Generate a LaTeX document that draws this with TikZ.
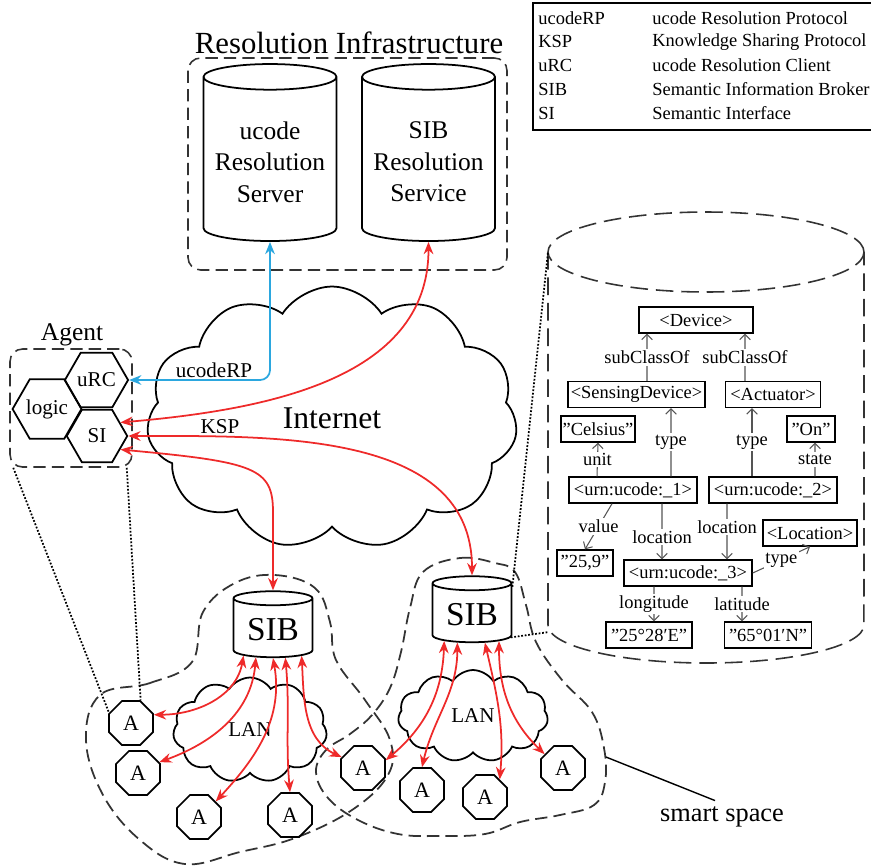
\documentclass[tikz,border=0pt]{standalone}
\usepackage{fontspec}
\setmainfont{Liberation Serif}
\usetikzlibrary{shapes.geometric,shapes.symbols,arrows.meta}
\definecolor{kspred}{HTML}{EE2A2A}
\definecolor{rpblue}{HTML}{2BA7DF}
\definecolor{dashgray}{HTML}{333333}
\definecolor{relgray}{HTML}{555555}

\begin{document}
\begin{tikzpicture}[x=0.02cm,y=-0.02cm,
    legtext/.style={anchor=west,inner sep=0pt,font=\fontsize{10.5}{12}\selectfont},
    grpbox/.style={draw=dashgray,line width=0.9pt,dash pattern=on 7pt off 3.5pt,rounded corners=0.25cm},
    spacedash/.style={draw=dashgray,line width=1pt,dash pattern=on 7pt off 3.5pt},
    bigdash/.style={draw=dashgray,line width=0.9pt,dash pattern=on 10pt off 4.5pt},
    bigcyl/.style={cylinder,draw,line width=1pt,shape border rotate=90,aspect=0.21,
      minimum width=2.66cm,minimum height=3.54cm,align=center,font=\fontsize{14.5}{18}\selectfont},
    sibcyl/.style={cylinder,draw,line width=1pt,shape border rotate=90,aspect=0.22,
      minimum width=1.58cm,minimum height=1.32cm,font=\fontsize{19}{22}\selectfont},
    hexa/.style={regular polygon,regular polygon sides=6,draw,line width=1pt,minimum size=1.21cm,
      inner sep=0pt,font=\fontsize{12}{14}\selectfont},
    octa/.style={regular polygon,regular polygon sides=8,draw,line width=1pt,minimum size=0.95cm,
      inner sep=0pt,font=\fontsize{12.5}{14}\selectfont},
    netcloud/.style={cloud,draw,line width=1pt,cloud puffs=11,cloud puff arc=115,cloud ignores aspect},
    ontobox/.style={draw,line width=0.8pt,minimum height=0.52cm,inner sep=1pt,font=\fontsize{10.5}{12}\selectfont},
    rel/.style={draw=relgray,line width=0.6pt,-{Straight Barb[length=3pt,width=6pt]}},
    rellbl/.style={fill=white,inner sep=1pt,font=\fontsize{10.5}{12}\selectfont},
    redarrow/.style={draw=kspred,line width=1pt,{Stealth[length=7pt,width=5.5pt]}-{Stealth[length=7pt,width=5.5pt]}},
    bluearrow/.style={draw=rpblue,line width=1pt,{Stealth[length=7pt,width=5.5pt]}-{Stealth[length=7pt,width=5.5pt]}},
    zoomline/.style={line width=1pt,densely dotted}]
\useasboundingbox (0,0) rectangle (871,866);
\clip (0,0) rectangle (871,866);

% legend
\draw[line width=0.6pt] (871,3) -- (533,3) -- (533,130) -- (871,130);
\foreach \ab/\full [count=\i] in {ucodeRP/ucode Resolution Protocol,KSP/Knowledge Sharing Protocol,
    uRC/ucode Resolution Client,SIB/Semantic Information Broker,SI/Semantic Interface}
  {\node[legtext] (abbr\i) at (538,{18+23.8*(\i-1)}) {\ab};
   \node[legtext] (full\i) at (652,{18+23.8*(\i-1)}) {\full};}

% resolution infrastructure
\node[font=\fontsize{17.5}{20}\selectfont] (ritxt) at (349,43) {Resolution Infrastructure};
\node[grpbox,minimum width=6.38cm,minimum height=4.24cm] (ribox) at (347.5,164) {};
\node[bigcyl] (urs) at (270,162) {ucode\\Resolution\\Server};
\node[bigcyl] (srs) at (428.5,162) {SIB\\Resolution\\Service};

% internet
\node[netcloud,minimum width=7.42cm,minimum height=5.26cm,font=\fontsize{18}{20}\selectfont] (inet) at (332,418) {Internet};

% agent
\node[grpbox,minimum width=2.44cm,minimum height=2.36cm] (agentbox) at (71,408) {};
\node[font=\fontsize{14.5}{16}\selectfont] (agenttxt) at (72,335) {Agent};
\node[hexa] (urc) at (96.5,380) {uRC};
\node[hexa] (logic) at (47,409) {logic};
\node[hexa] (si) at (97,436) {SI};

% ontology cylinder
\draw[bigdash] (706,252) ellipse[x radius=3.16cm,y radius=0.8cm];
\draw[bigdash] (548,252) -- (548,625) arc[start angle=180,end angle=360,x radius=3.16cm,y radius=0.76cm] -- (864,252);
\coordinate (cyltl) at (548,252);
\coordinate (cylbl) at (549,632);

\node[ontobox,minimum width=2.28cm] (dev) at (696,320) {\textless Device\textgreater};
\node[ontobox,minimum width=2.74cm] (sensdev) at (636.5,394.5) {\textless SensingDevice\textgreater};
\node[ontobox,minimum width=1.9cm] (actu) at (773,394.5) {\textless Actuator\textgreater};
\node[ontobox,minimum width=1.48cm] (celsius) at (598,429) {”Celsius”};
\node[ontobox,minimum width=0.96cm] (on) at (811,429) {”On”};
\node[ontobox,minimum width=2.56cm] (urn1) at (633,490) {\textless urn:ucode:\_1\textgreater};
\node[ontobox,minimum width=2.56cm] (urn2) at (773,490) {\textless urn:ucode:\_2\textgreater};
\node[ontobox,minimum width=1.88cm] (loc) at (810,533) {\textless Location\textgreater};
\node[ontobox,minimum width=1.12cm] (val) at (585,563) {”25,9”};
\node[ontobox,minimum width=2.56cm] (urn3) at (688,573) {\textless urn:ucode:\_3\textgreater};
\node[ontobox,minimum width=1.72cm] (lon) at (649,635) {”25°28′E”};
\node[ontobox,minimum width=1.74cm] (lat) at (768,635) {”65°01′N”};

\draw[rel] ([xshift=0.21cm]sensdev.north) -- node[rellbl]{subClassOf} ([xshift=-0.98cm]dev.south);
\draw[rel] ([xshift=-0.56cm]actu.north) -- node[rellbl]{subClassOf} ([xshift=0.98cm]dev.south);
\draw[rel] ([xshift=0.76cm]urn1.north) -- node[rellbl]{type} ([xshift=0.69cm]sensdev.south);
\draw[rel] ([xshift=-0.72cm]urn1.north) -- node[rellbl]{unit} (celsius.south);
\draw[rel] ([xshift=-0.42cm]urn2.north) -- node[rellbl]{type} ([xshift=-0.42cm]actu.south);
\draw[rel] ([xshift=0.84cm]urn2.north) -- node[rellbl]{state} ([xshift=0.08cm]on.south);
\draw[rel] ([xshift=-0.42cm]urn1.south) -- node[rellbl]{value} (val.north);
\draw[rel] ([xshift=0.58cm]urn1.south) -- node[rellbl,pos=0.6]{location} ([xshift=-0.52cm]urn3.north);
\draw[rel] ([xshift=-0.92cm]urn2.south) -- node[rellbl,pos=0.42]{location} ([xshift=0.78cm]urn3.north);
\draw[rel] (urn3.east) -- node[rellbl]{type} (loc.south);
\draw[rel] ([xshift=-0.68cm]urn3.south) -- node[rellbl]{longitude} ([xshift=0.1cm]lon.north);
\draw[rel] ([xshift=1.08cm]urn3.south) -- node[rellbl]{latitude} ([xshift=-0.52cm]lat.north);

% smart spaces
\draw[spacedash] plot[smooth cycle,tension=0.65] coordinates {(100,695) (150,683) (192,662) (203,612)
  (235,583) (275,575) (315,588) (330,622) (336,660) (365,700) (390,740) (388,775) (352,810)
  (295,838) (240,852) (185,864) (140,840) (103,795) (86,740)};
\draw[spacedash] plot[smooth cycle,tension=0.65] coordinates {(423,572) (460,558) (495,563) (515,572)
  (526,605) (536,642) (562,680) (592,712) (604,748) (605,782) (594,805) (560,815) (520,822)
  (485,834) (440,836) (398,834) (358,820) (328,798) (316,772) (326,750) (350,734) (372,715)
  (390,688) (401,652) (410,608)};
\coordinate (ssend) at (606,757);
\node[font=\fontsize{15}{17}\selectfont] (sslabel) at (722,817) {smart space};
\draw[line width=0.8pt] (ssend) -- ([xshift=-0.14cm]sslabel.north);

\node[sibcyl] (lsib) at (273,630) {SIB};
\node[sibcyl] (rsib) at (472,615) {SIB};
\node[netcloud,minimum width=3.08cm,minimum height=2.1cm,font=\fontsize{12}{14}\selectfont] (llan) at (250,730) {LAN};
\node[netcloud,minimum width=3.0cm,minimum height=1.84cm,font=\fontsize{12}{14}\selectfont] (rlan) at (473,716) {LAN};

\node[octa] (a1) at (131,723) {A};
\node[octa] (a2) at (138,773) {A};
\node[octa] (a3) at (199,817) {A};
\node[octa] (a4) at (290,815) {A};
\node[octa] (a5) at (363,768) {A};
\node[octa] (a6) at (422,790) {A};
\node[octa] (a7) at (485,797) {A};
\node[octa] (a8) at (563,768) {A};

% dotted zoom lines
\draw[zoomline] (agentbox.-134) -- (a1.155);
\draw[zoomline] (agentbox.-47) -- (a1.67);
\draw[zoomline] (rsib.35) -- (cyltl);
\draw[zoomline] (rsib.-30) -- (cylbl);

% ucodeRP and KSP
\draw[bluearrow,rounded corners=0.2cm] (urs.-90) |- (urc.0);
\node[font=\fontsize{12}{14}\selectfont] (rplbl) at (214,370) {ucodeRP};
\draw[redarrow] (srs.-90) to[out=-90,in=5] (si.30);
\node[font=\fontsize{12}{14}\selectfont] (ksplbl) at (220,427) {KSP};
\draw[redarrow] (si.0) to[out=0,in=90] (rsib.90);
\draw[redarrow] (si.-30) .. controls (255,462) and (273,468) .. (273,512) -- (lsib.90);

% LAN links
\draw[redarrow] (lsib.-139) to[out=-100,in=0] (a1.20);
\draw[redarrow] (lsib.-122) to[out=-95,in=20] (a2.27);
\draw[redarrow] (lsib.-90) to[out=-80,in=47] (a3.43);
\draw[redarrow] (lsib.-66) to[out=-85,in=95] (a4.north);
\draw[redarrow] (lsib.-42) to[out=-87,in=155] (a5.153);
\draw[redarrow] (rsib.-137) to[out=-92,in=40] (a5.19);
\draw[redarrow] (rsib.-118) to[out=-90,in=77] (a6.north);
\draw[redarrow] (rsib.-65) to[out=-77,in=85] (a7.50);
\draw[redarrow] (rsib.-44) to[out=-90,in=136] (a8.143);
\end{tikzpicture}
\end{document}
